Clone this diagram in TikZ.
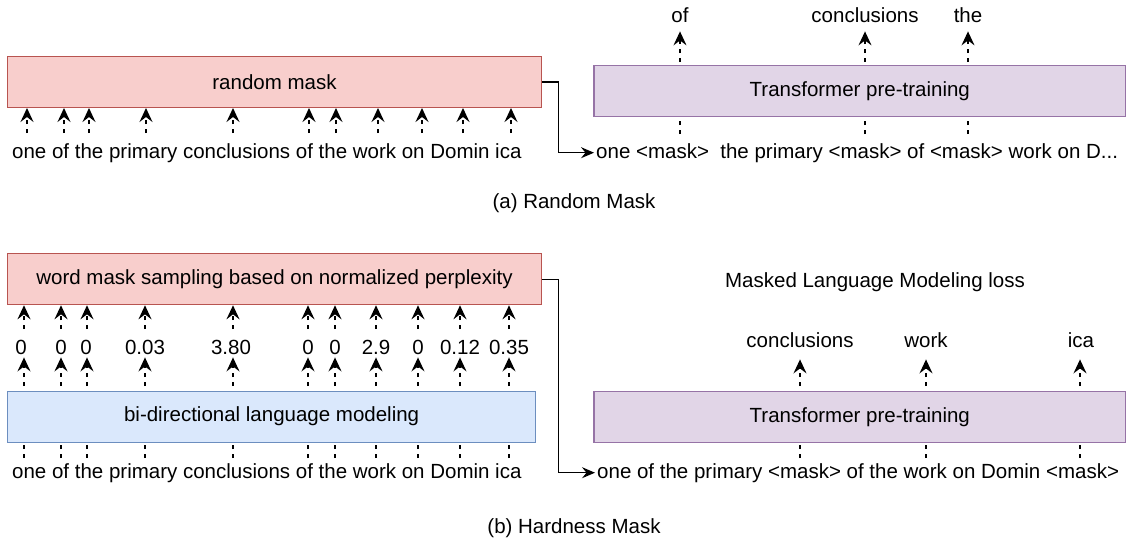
\documentclass[tikz,border=0pt]{standalone}
\usepackage{fontspec}
\setmainfont{Liberation Sans}
\usetikzlibrary{arrows.meta}
\definecolor{redfill}{HTML}{F8CECC}
\definecolor{redline}{HTML}{B85450}
\definecolor{purfill}{HTML}{E1D5E7}
\definecolor{purline}{HTML}{9673A6}
\definecolor{bluefill}{HTML}{DAE8FC}
\definecolor{blueline}{HTML}{6C8EBF}
\begin{document}
\begin{tikzpicture}[x=1pt,y=-1pt,
  every node/.style={font=\fontsize{20.5pt}{24pt}\selectfont, inner sep=0pt},
  boxbase/.style={line width=1.3pt, anchor=north west, minimum height=51pt},
  redbox/.style={boxbase, draw=redline, fill=redfill},
  purbox/.style={boxbase, draw=purline, fill=purfill},
  bluebox/.style={boxbase, draw=blueline, fill=bluefill},
  tipa/.tip={Stealth[length=14pt,width=13pt,inset=5pt]},
  tipc/.tip={Stealth[length=13pt,width=11pt,inset=4.5pt]},
  dasharr/.style={line width=1.4pt, dash pattern=on 4.5pt off 4.5pt, -tipa},
  conn/.style={line width=1.3pt, -tipc},
  sent/.style={anchor=base west},
  lbl/.style={anchor=base}]
\useasboundingbox (0,0) rectangle (1126,542);

% ---------- (a) Random Mask ----------
\node[redbox, minimum width=533.7pt] (rm) at (7,55.7) {random mask};
\node[sent] (s1) at (12,158) {one of the primary conclusions of the work on Domin ica};
\foreach \x [count=\i] in {27,64,89,146,233,309,336,378,422,463,511} {
  \coordinate (pa\i) at (\x,133);
  \draw[dasharr] (pa\i) -- (pa\i |- rm.south);
}
\node[sent] (m1) at (596,158) {one <mask>\ \ the primary <mask> of <mask> work on D...};
\node[lbl] (ta1) at (680,22) {of};
\node[lbl] (ta2) at (865,22) {conclusions};
\node[lbl] (ta3) at (968,22) {the};
\foreach \x [count=\i] in {680,865,968} {
  \coordinate (ua\i) at (\x,134);
  \draw[dasharr, shorten >=9pt] (ua\i) -- (ua\i |- ta\i.south);
}
\node[purbox, minimum width=531.7pt, minimum height=51.5pt] (tp1) at (593.3,64.5) {Transformer pre-training};
\draw[conn, shorten >=2pt] (rm.east) -- ++(16.5,0) |- (m1.west);
\node[lbl] (capa) at (574,208) {(a) Random Mask};

% ---------- (b) Hardness Mask ----------
\node[redbox, minimum width=533.7pt] (wm) at (7,253) {word mask sampling based on normalized perplexity};
\node[sent] (s2) at (12,478) {one of the primary conclusions of the work on Domin ica};
\foreach \x/\v/\d [count=\i] in {24/0/-3,61/0/0,87/0/-1,145/0.03/0,233/3.80/-2,308/0/0,335/0/0,376/2.9/0,418/0/0,460/0.12/0,509/0.35/0} {
  \node[lbl] (n\i) at (\x+\d,354) {\v};
  \coordinate (qb\i) at (\x,329);
  \draw[dasharr] (qb\i) -- (qb\i |- wm.south);
  \coordinate (rb\i) at (\x,458);
  \draw[dasharr, shorten >=3pt] (rb\i) -- (rb\i |- n\i.south);
}
\node[bluebox, minimum width=528pt] (bl) at (7,390.5) {bi-directional language modeling};
\node[sent] (m2) at (597,478) {one of the primary <mask> of the work on Domin <mask>};
\node[lbl] (mlm) at (875,287) {Masked Language Modeling loss};
\node[lbl] (tb1) at (800,347) {conclusions};
\node[lbl] (tb2) at (926,347) {work};
\node[lbl] (tb3) at (1081,347) {ica};
\foreach \x [count=\i] in {800,926,1080} {
  \coordinate (ub\i) at (\x,458);
  \draw[dasharr, shorten >=12pt] (ub\i) -- (ub\i |- tb\i.south);
}
\node[purbox, minimum width=531.7pt] (tp2) at (593.3,390.7) {Transformer pre-training};
\draw[conn, shorten >=2pt] (wm.east) -- ++(16.5,0) |- (m2.west);
\node[lbl] (capb) at (574,533) {(b) Hardness Mask};
\end{tikzpicture}
\end{document}
